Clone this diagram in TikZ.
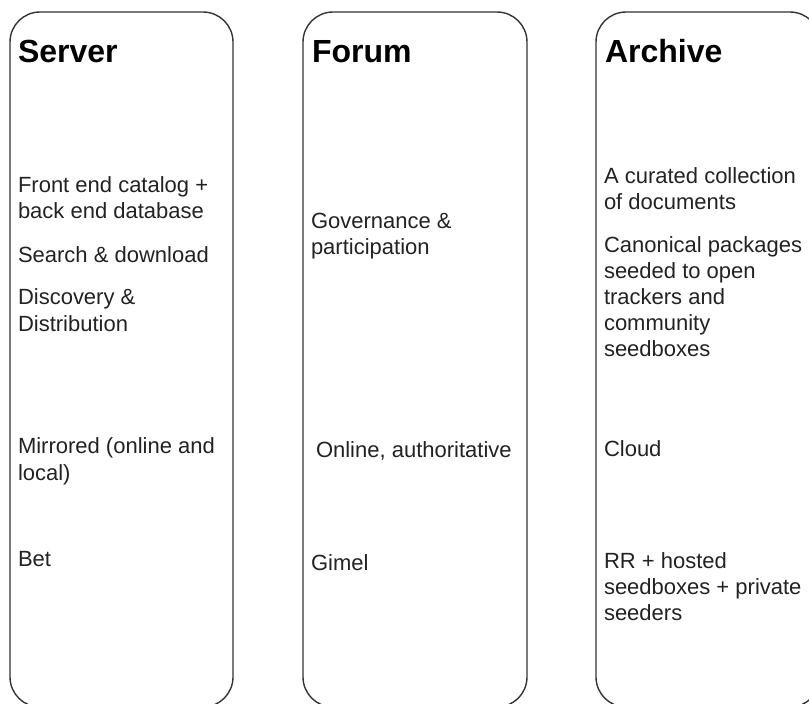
\documentclass[tikz,border=0pt]{standalone}
\usepackage{fontspec}
\setmainfont{Liberation Sans}
\definecolor{txt}{HTML}{222222}
\definecolor{edge}{HTML}{333333}
\begin{document}
\begin{tikzpicture}[x=1pt,y=-1pt,
  col/.style={draw=edge,line width=1.4pt,rounded corners=30pt},
  ttl/.style={anchor=base west,inner sep=0pt,outer sep=0pt,font=\fontsize{32}{36}\selectfont\bfseries,text=black},
  body/.style={anchor=base west,inner sep=0pt,outer sep=0pt,font=\fontsize{22}{26}\selectfont,text=txt}]
\useasboundingbox (0,0) rectangle (809,704);
\begin{scope}
\clip (0,0) rectangle (809,704);
\draw[col] (10,12) rectangle (233,707);
\draw[col] (303,12) rectangle (527,707);
\draw[col] (596,12) rectangle (820,707);
\end{scope}
% Server
\node[ttl] (st) at (18,62) {Server};
\node[body] (s1) at (18,192) {Front end catalog +};
\node[body] (s2) at (18,218) {back end database};
\node[body] (s3) at (18,262) {Search \& download};
\node[body] (s4) at (18,304) {Discovery \&};
\node[body] (s5) at (18,331) {Distribution};
\node[body] (s6) at (18,453) {Mirrored (online and};
\node[body] (s7) at (18,480) {local)};
\node[body] (s8) at (18,566) {Bet};
% Forum
\node[ttl] (ft) at (312,62) {Forum};
\node[body] (f1) at (311,228) {Governance \&};
\node[body] (f2) at (311,254) {participation};
\node[body] (f3) at (316,457) {Online, authoritative};
\node[body] (f4) at (311,570) {Gimel};
% Archive
\node[ttl] (at) at (605,62) {Archive};
\node[body] (a1) at (604,183) {A curated collection};
\node[body] (a2) at (604,209) {of documents};
\node[body] (a3) at (604,252) {Canonical packages};
\node[body] (a4) at (604,278) {seeded to open};
\node[body] (a5) at (604,304) {trackers and};
\node[body] (a6) at (604,330) {community};
\node[body] (a7) at (604,356) {seedboxes};
\node[body] (a8) at (604,456) {Cloud};
\node[body] (a9) at (604,568) {RR + hosted};
\node[body] (a10) at (604,594) {seedboxes + private};
\node[body] (a11) at (604,620) {seeders};
\end{tikzpicture}
\end{document}
